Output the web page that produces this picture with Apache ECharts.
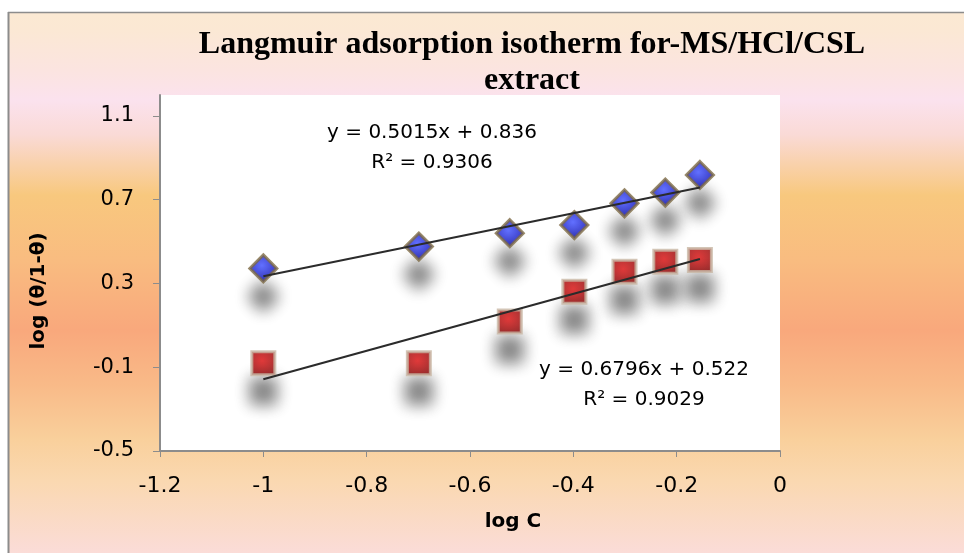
<!DOCTYPE html>
<html>
<head>
<meta charset="utf-8">
<script src="https://cdn.jsdelivr.net/npm/echarts@6/dist/echarts.min.js"></script>
<style>
  html, body { margin: 0; padding: 0; background: #fff; }
  #langmuir { width: 964px; height: 553px; }
</style>
</head>
<body>
<div id="langmuir"></div>
<script>
// log C values (x) and log(θ/1-θ) values for the two sets
const logC = [-1, -0.699, -0.523, -0.398, -0.301, -0.222, -0.155];
const blueVals = [0.372, 0.476, 0.54, 0.579, 0.683, 0.734, 0.818];
const redVals = [-0.081, -0.081, 0.118, 0.261, 0.356, 0.404, 0.412];
// linear fit: slope, intercept, R²
const blueFit = [0.5015, 0.836, 0.9306];
const redFit = [0.6796, 0.522, 0.9029];
const yTicks = [-0.5, -0.1, 0.3, 0.7, 1.1];

const myChart = echarts.init(document.getElementById('langmuir'));

const xMin = Math.min(...logC);
const xMax = Math.max(...logC);
const fitLine = f => [[xMin, f[0] * xMin + f[1]], [xMax, f[0] * xMax + f[1]]];
const points = vals => logC.map((x, i) => [x, vals[i]]);

const sans = 'DejaVu Sans';
const shadow = {
  shadowColor: 'rgba(0,0,0,0.6)',
  shadowBlur: 15,
  shadowOffsetY: 28,
};

const option = {
  animation: false,
  backgroundColor: new echarts.graphic.LinearGradient(0, 0, 0, 1, [
    { offset: 0, color: '#fbead2' },
    { offset: 0.054, color: '#fbe8d4' },
    { offset: 0.127, color: '#fbe4e0' },
    { offset: 0.181, color: '#fbe2ee' },
    { offset: 0.244, color: '#fadad6' },
    { offset: 0.353, color: '#f8c87e' },
    { offset: 0.47, color: '#f9bc80' },
    { offset: 0.597, color: '#f9a87c' },
    { offset: 0.696, color: '#f9ba88' },
    { offset: 0.796, color: '#f9d09c' },
    { offset: 0.868, color: '#fad8b0' },
    { offset: 1, color: '#fbdcd8' },
  ]),
  title: {
    text: 'Langmuir adsorption isotherm for-MS/HCl/CSL\nextract',
    left: 527,
    top: 22,
    textAlign: 'center',
    textStyle: {
      fontFamily: 'Liberation Serif',
      fontWeight: 'bold',
      fontSize: 32,
      lineHeight: 36,
      color: '#000',
    },
  },
  grid: {
    left: 160,
    top: 95,
    right: 184,
    bottom: 102,
    show: true,
    backgroundColor: '#fff',
    borderWidth: 0,
  },
  xAxis: {
    type: 'value',
    min: -1.2,
    max: 0,
    interval: 0.2,
    axisLine: { show: true, onZero: false, lineStyle: { color: '#8c8c8c', width: 2 } },
    axisTick: { show: true, length: 6, lineStyle: { color: '#8c8c8c' } },
    splitLine: { show: false },
    axisLabel: { color: '#000', fontFamily: sans, fontSize: 22, margin: 24 },
  },
  yAxis: {
    type: 'value',
    min: -0.5,
    max: 1.2,
    axisLine: { show: true, onZero: false, lineStyle: { color: '#8c8c8c', width: 2 } },
    axisTick: { show: true, length: 7, customValues: yTicks, lineStyle: { color: '#8c8c8c' } },
    splitLine: { show: false },
    axisLabel: { color: '#000', fontFamily: sans, fontSize: 21, margin: 26, customValues: yTicks },
  },
  graphic: [
    // white margin and thin frame of the chart area
    { type: 'rect', shape: { x: 0, y: 0, width: 964, height: 12 }, style: { fill: '#fff' } },
    { type: 'rect', shape: { x: 0, y: 0, width: 8, height: 553 }, style: { fill: '#fff' } },
    { type: 'line', shape: { x1: 8, y1: 12.5, x2: 964, y2: 12.5 }, style: { stroke: '#8c8c8c', lineWidth: 1.5 } },
    { type: 'line', shape: { x1: 8.5, y1: 12, x2: 8.5, y2: 553 }, style: { stroke: '#8c8c8c', lineWidth: 2 } },
    {
      type: 'text', x: 39, y: 291, rotation: Math.PI / 2,
      style: {
        text: 'log (θ/1-θ)', align: 'center', verticalAlign: 'middle',
        font: 'bold 20px "DejaVu Sans"', fill: '#000',
      },
    },
    {
      type: 'text', x: 513, y: 522,
      style: {
        text: 'log C', align: 'center', verticalAlign: 'middle',
        font: 'bold 20px "DejaVu Sans"', fill: '#000',
      },
    },
    {
      type: 'text', x: 432, y: 148,
      style: {
        text: `y = ${blueFit[0]}x + ${blueFit[1]}\nR² = ${blueFit[2]}`,
        align: 'center', verticalAlign: 'middle', lineHeight: 30,
        font: '20px "DejaVu Sans"', fill: '#000',
      },
    },
    {
      type: 'text', x: 644, y: 385,
      style: {
        text: `y = ${redFit[0]}x + ${redFit[1]}\nR² = ${redFit[2]}`,
        align: 'center', verticalAlign: 'middle', lineHeight: 30,
        font: '20px "DejaVu Sans"', fill: '#000',
      },
    },
  ],
  series: [
    {
      name: 'blue',
      type: 'scatter',
      symbol: 'diamond',
      symbolSize: 27,
      z: 2,
      itemStyle: {
        color: new echarts.graphic.RadialGradient(0.45, 0.4, 0.6, [
          { offset: 0, color: '#3a4cff' },
          { offset: 1, color: '#0000a8' },
        ]),
        borderColor: '#7d6a44',
        borderWidth: 3,
        ...shadow,
      },
      data: points(blueVals),
    },
    {
      name: 'red',
      type: 'scatter',
      symbol: 'rect',
      symbolSize: 23,
      z: 2,
      itemStyle: {
        color: new echarts.graphic.RadialGradient(0.45, 0.4, 0.6, [
          { offset: 0, color: '#d80808' },
          { offset: 1, color: '#900000' },
        ]),
        borderColor: '#c8b6a4',
        borderWidth: 3,
        ...shadow,
      },
      data: points(redVals),
    },
    {
      name: 'blue fit',
      type: 'line',
      z: 3,
      silent: true,
      showSymbol: false,
      lineStyle: { color: '#2b2b2b', width: 2.2 },
      data: fitLine(blueFit),
    },
    {
      name: 'red fit',
      type: 'line',
      z: 3,
      silent: true,
      showSymbol: false,
      lineStyle: { color: '#2b2b2b', width: 2.2 },
      data: fitLine(redFit),
    },
  ],
};

myChart.setOption(option);
</script>
</body>
</html>
